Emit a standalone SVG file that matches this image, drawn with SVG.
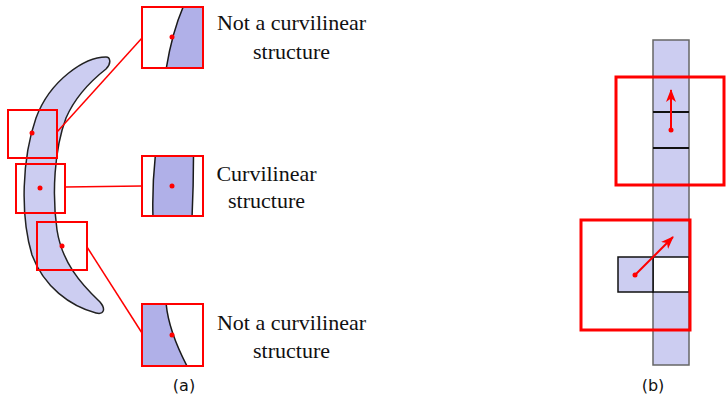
<svg xmlns="http://www.w3.org/2000/svg" width="726" height="398" viewBox="0 0 726 398">
<style>
.rbox{fill:none;stroke:#ff0000;stroke-width:2}
.rbox3{fill:none;stroke:#ff0000;stroke-width:3}
.conn{stroke:#ff0000;stroke-width:1.5;fill:none}
.dot{fill:#ff0000}
.edge{fill:none;stroke:#1a1a1a;stroke-width:1.5}
.dark{fill:#b0b0e8}
.light{fill:#cccdf1}
.lbl{font-family:"Liberation Serif","Times New Roman",serif;font-size:22px;fill:#111;text-anchor:middle}
.cap{font-family:"DejaVu Sans",sans-serif;font-size:16px;fill:#111;text-anchor:middle}
.arr{stroke:#ff0000;stroke-width:2;fill:none}
</style>
<defs>
<marker id="ah" markerUnits="userSpaceOnUse" markerWidth="14" markerHeight="12" refX="12" refY="5" orient="auto">
<path d="M0,0 L13,5 L0,10 L3.5,5 Z" fill="#ff0000"/>
</marker>
<clipPath id="c1"><rect x="142" y="7" width="61" height="61"/></clipPath>
<clipPath id="c2"><rect x="142" y="156" width="61" height="60"/></clipPath>
<clipPath id="c3"><rect x="142" y="304" width="61" height="62"/></clipPath>
</defs>

<g id="crescent">
<path d="M106,57 C85,57 50,80 36,118 C22,158 20,215 32,255 C44,287 70,306 96,313 C104,315 106,309 100,302 C80,283 62,262 57,230 C52,195 54,150 66,118 C76,95 92,80 106,69 C112,63 110,57 106,57 Z" fill="#cccdf1" stroke="#222" stroke-width="1.5"/>
</g>

<g id="connectors">
<line class="conn" x1="57" y1="132" x2="142" y2="38"/>
<line class="conn" x1="65" y1="187" x2="142" y2="186"/>
<line class="conn" x1="87" y1="247" x2="142" y2="333"/>
</g>

<g id="box-a1">
<rect class="rbox" x="8" y="110" width="49" height="48"/>
<circle class="dot" cx="32" cy="133" r="2.5"/>
</g>
<g id="box-a2">
<rect class="rbox" x="16" y="164" width="49" height="49"/>
<circle class="dot" cx="40" cy="188" r="2.5"/>
</g>
<g id="box-a3">
<rect class="rbox" x="37" y="222" width="50" height="48"/>
<circle class="dot" cx="62" cy="246" r="2.5"/>
</g>

<g id="zoom-top">
<g clip-path="url(#c1)">
<rect x="142" y="7" width="61" height="61" fill="#fff"/>
<path class="dark" d="M184,5 Q172,32 166,70 L205,70 L205,5 Z"/>
<path class="edge" d="M184,5 Q172,32 166,70"/>
</g>
<rect class="rbox" x="142" y="7" width="61" height="61"/>
<circle class="dot" cx="172" cy="37" r="2.5"/>
<text class="lbl" x="291.5" y="30">Not a curvilinear</text>
<text class="lbl" x="291.5" y="59">structure</text>
</g>

<g id="zoom-mid">
<g clip-path="url(#c2)">
<rect x="142" y="156" width="61" height="60" fill="#fff"/>
<path class="dark" d="M155.5,154 Q152,186 153,218 L192,218 Q193.5,186 193.5,154 Z"/>
<path class="edge" d="M155.5,154 Q152,186 153,218"/>
<path class="edge" d="M193.5,154 Q193.5,186 192,218"/>
</g>
<rect class="rbox" x="142" y="156" width="61" height="60"/>
<circle class="dot" cx="172" cy="186" r="2.5"/>
<text class="lbl" x="266.5" y="181">Curvilinear</text>
<text class="lbl" x="266.5" y="208">structure</text>
</g>

<g id="zoom-bot">
<g clip-path="url(#c3)">
<rect x="142" y="304" width="61" height="62" fill="#fff"/>
<path class="dark" d="M166,302 Q168,330 188,368 L140,368 L140,302 Z"/>
<path class="edge" d="M166,302 Q168,330 188,368"/>
</g>
<rect class="rbox" x="142" y="304" width="61" height="62"/>
<circle class="dot" cx="172" cy="335" r="2.5"/>
<text class="lbl" x="291.5" y="330">Not a curvilinear</text>
<text class="lbl" x="291.5" y="358">structure</text>
</g>

<text class="cap" x="184" y="391">(a)</text>

<g id="column">
<rect x="653" y="40" width="36" height="325" fill="#cccdf1" stroke="#666" stroke-width="1.5"/>
<line x1="653" y1="112" x2="689" y2="112" stroke="#111" stroke-width="2"/>
<line x1="653" y1="148" x2="689" y2="148" stroke="#111" stroke-width="2"/>
<rect x="653" y="257" width="36" height="35" fill="#fff" stroke="#111" stroke-width="1.5"/>
</g>
<g id="side-cell">
<rect x="618" y="257" width="35" height="35" fill="#cccdf1" stroke="#111" stroke-width="1.5"/>
</g>

<g id="window-top">
<rect class="rbox3" x="616" y="77" width="108" height="108"/>
<circle class="dot" cx="671" cy="130" r="2.5"/>
<line class="arr" x1="671" y1="130" x2="671" y2="90" marker-end="url(#ah)"/>
</g>
<g id="window-bot">
<rect class="rbox3" x="581" y="220" width="109" height="110"/>
<circle class="dot" cx="635" cy="275" r="2.5"/>
<line class="arr" x1="635" y1="275" x2="673" y2="237" marker-end="url(#ah)"/>
</g>

<text class="cap" x="653" y="391">(b)</text>
</svg>
